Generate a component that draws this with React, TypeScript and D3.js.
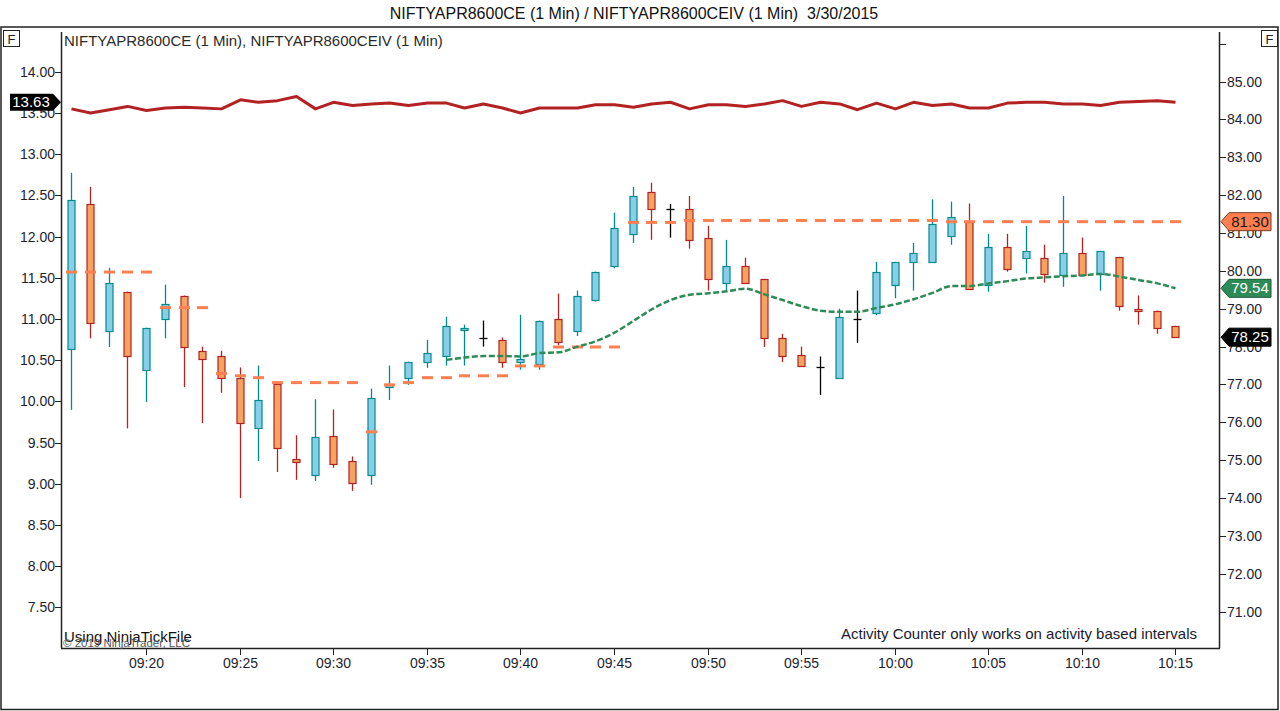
import React from "react";
import * as d3 from "d3";

// 1 minute bars, NIFTYAPR8600CE (right axis)
const times = [
  "09:16", "09:17", "09:18", "09:19", "09:20", "09:21", "09:22", "09:23", "09:24", "09:25",
  "09:26", "09:27", "09:28", "09:29", "09:30", "09:31", "09:32", "09:33", "09:34", "09:35",
  "09:36", "09:37", "09:38", "09:39", "09:40", "09:41", "09:42", "09:43", "09:44", "09:45",
  "09:46", "09:47", "09:48", "09:49", "09:50", "09:51", "09:52", "09:53", "09:54", "09:55",
  "09:56", "09:57", "09:58", "09:59", "10:00", "10:01", "10:02", "10:03", "10:04", "10:05",
  "10:06", "10:07", "10:08", "10:09", "10:10", "10:11", "10:12", "10:13", "10:14", "10:15",
];
const opens = [
  77.95, 81.78, 78.4, 79.45, 77.39, 78.74, 79.35, 77.89, 77.74, 77.16,
  75.84, 77.0, 75.04, 74.6, 75.65, 74.99, 74.6, 76.94, 77.16, 77.6,
  77.74, 78.45, 78.24, 78.18, 77.6, 77.55, 78.74, 78.4, 79.24, 80.14,
  80.98, 82.09, 81.64, 81.64, 80.88, 79.69, 80.14, 79.79, 78.24, 77.79,
  77.45, 77.18, 78.74, 78.9, 79.64, 80.24, 80.24, 80.93, 81.3, 79.64,
  80.64, 80.35, 80.35, 79.9, 80.48, 79.93, 80.37, 79.0, 78.95, 78.55,
];
const highs = [
  82.59, 82.22, 80.08, 79.45, 78.5, 79.64, 79.35, 78.0, 77.89, 77.45,
  77.5, 77.0, 75.66, 76.61, 76.34, 75.1, 76.89, 77.5, 77.6, 78.18,
  78.79, 78.58, 78.69, 78.24, 78.84, 78.69, 79.4, 79.48, 79.98, 81.54,
  82.22, 82.33, 81.77, 81.98, 81.19, 80.82, 80.35, 79.79, 78.34, 78.0,
  77.74, 79.0, 79.48, 80.24, 80.24, 80.74, 81.89, 81.83, 81.78, 80.98,
  80.98, 81.19, 80.69, 81.98, 80.88, 80.53, 80.37, 79.35, 78.95, 78.55,
];
const lows = [
  76.33, 78.22, 77.99, 75.84, 76.54, 78.22, 76.93, 75.98, 76.78, 74.0,
  74.98, 74.69, 74.48, 74.45, 74.8, 74.19, 74.35, 76.59, 76.99, 77.44,
  77.5, 77.5, 78.0, 77.44, 77.39, 77.39, 78.04, 78.28, 79.19, 80.07,
  80.74, 80.82, 80.88, 80.59, 79.48, 79.48, 79.69, 77.99, 77.59, 77.5,
  76.72, 77.18, 78.1, 78.83, 79.28, 79.48, 80.24, 80.69, 79.53, 79.45,
  79.98, 79.93, 79.69, 79.58, 79.9, 79.48, 78.95, 78.58, 78.34, 78.25,
];
const closes = [
  81.88, 78.63, 79.69, 77.74, 78.5, 79.13, 77.99, 77.66, 77.18, 75.99,
  76.6, 75.31, 74.94, 75.6, 74.91, 74.41, 76.65, 77.01, 77.6, 77.84,
  78.55, 78.5, 78.24, 77.6, 77.66, 78.69, 78.11, 79.35, 79.98, 81.14,
  81.98, 81.64, 81.64, 80.82, 79.79, 80.14, 79.69, 78.24, 77.74, 77.5,
  77.45, 78.79, 78.74, 79.98, 80.24, 80.48, 81.25, 81.43, 79.53, 80.64,
  80.04, 80.53, 79.93, 80.48, 79.9, 80.53, 79.08, 78.95, 78.5, 78.25,
];

// stepped level drawn as one dash per bar (right axis)
const levelDash = [
  79.97, 79.97, 79.97, 79.97, 79.97, 79.03, 79.03, 79.03, 77.29, 77.23,
  77.18, 77.05, 77.05, 77.05, 77.05, 77.05, 75.75, 76.99, 77.05, 77.18,
  77.18, 77.23, 77.23, 77.23, 77.49, 77.49, 77.99, 77.99, 77.99, 77.99,
  81.28, 81.28, 81.28, 81.33, 81.33, 81.33, 81.33, 81.33, 81.33, 81.33,
  81.33, 81.33, 81.33, 81.33, 81.33, 81.33, 81.33, 81.3, 81.3, 81.3,
  81.3, 81.3, 81.3, 81.3, 81.3, 81.3, 81.3, 81.3, 81.3, 81.3,
];

// green dashed average (right axis), starts at 09:36
const avgLine: (number | null)[] = [
  null, null, null, null, null, null, null, null, null, null,
  null, null, null, null, null, null, null, null, null, null,
  77.65, 77.71, 77.75, 77.75, 77.74, 77.83, 77.85, 78.0, 78.14, 78.37,
  78.68, 78.98, 79.23, 79.37, 79.41, 79.46, 79.53, 79.38, 79.23, 79.07,
  78.95, 78.92, 78.92, 79.02, 79.12, 79.25, 79.42, 79.6, 79.6, 79.67,
  79.73, 79.8, 79.83, 79.86, 79.88, 79.92, 79.85, 79.76, 79.67, 79.54,
];

// NIFTYAPR8600CEIV close (left axis)
const ivClose = [
  13.55, 13.5, 13.54, 13.58, 13.53, 13.56, 13.57, 13.56, 13.55, 13.66,
  13.63, 13.65, 13.7, 13.55, 13.63, 13.59, 13.61, 13.62, 13.59, 13.62,
  13.62, 13.56, 13.61, 13.56, 13.5, 13.56, 13.56, 13.56, 13.6, 13.6,
  13.57, 13.61, 13.63, 13.55, 13.6, 13.6, 13.58, 13.61, 13.65, 13.58,
  13.63, 13.61, 13.54, 13.62, 13.55, 13.63, 13.59, 13.61, 13.56, 13.56,
  13.62, 13.63, 13.63, 13.61, 13.61, 13.59, 13.63, 13.64, 13.65, 13.63,
];

const leftTicks = [7.5, 8, 8.5, 9, 9.5, 10, 10.5, 11, 11.5, 12, 12.5, 13, 13.5, 14];
const rightTicks = [71, 72, 73, 74, 75, 76, 77, 78, 79, 80, 81, 82, 83, 84, 85, 86];
const rightLabels = [71, 72, 73, 74, 75, 76, 77, 78, 79, 80, 81, 82, 83, 84, 85];
const xTicks = ["09:20", "09:25", "09:30", "09:35", "09:40", "09:45", "09:50", "09:55", "10:00", "10:05", "10:10", "10:15"];

const W = 1280;
const H = 711;
const pl = 61;
const pr = 1219;
const pt = 32;
const pb = 648;

const font = "'Liberation Sans', Arial, sans-serif";
const axisText = "#1e1e2e";

const UP_FILL = "#87CEEB";
const UP_LINE = "#008B8B";
const DN_FILL = "#F4A460";
const DN_LINE = "#B22222";

export default function App() {
  const parseHM = d3.timeParse("%H:%M");
  const parseHMS = d3.timeParse("%H:%M:%S");

  const x = d3
    .scaleTime()
    .domain([parseHMS("09:15:27") as Date, parseHMS("10:17:20") as Date])
    .range([pl, pr]);
  const yL = d3.scaleLinear().domain([7.007, 14.483]).range([pb, pt]);
  const yR = d3.scaleLinear().domain([70.04, 86.31]).range([pb, pt]);

  const cx = (i: number) => Math.round(x(parseHM(times[i]) as Date)) + 0.5;

  const ivPath = d3
    .line<number>()
    .x((_, i) => cx(i))
    .y((d) => yL(d))(ivClose);

  const avgPath = d3
    .line<number | null>()
    .defined((d) => d != null)
    .x((_, i) => cx(i))
    .y((d) => yR(d as number))
    .curve(d3.curveMonotoneX)(avgLine);

  const fmt = d3.format(".2f");

  const rightBadge = (v: number, fill: string, stroke: string, color: string) => {
    const yc = yR(v);
    const h = 9;
    return (
      <g key={"b" + v}>
        <path
          d={`M${pr + 2},${yc} L${pr + 10},${yc - h} L${pr + 52},${yc - h} L${pr + 52},${yc + h} L${pr + 10},${yc + h} Z`}
          fill={fill}
          stroke={stroke}
          strokeWidth={1}
        />
        <text x={pr + 31} y={yc + 5} textAnchor="middle" fontSize={15} fill={color} fontFamily={font}>
          {fmt(v)}
        </text>
      </g>
    );
  };

  const ivLast = ivClose[ivClose.length - 1];
  const ivY = yL(ivLast);

  return (
    <svg
      width={W}
      height={H}
      viewBox={`0 0 ${W} ${H}`}
      style={{ position: "absolute", left: 0, top: 0, background: "#fff" }}
    >
      <defs>
        <clipPath id="plotClip">
          <rect x={pl} y={pt - 4} width={pr - pl} height={pb - pt + 4} />
        </clipPath>
      </defs>
      <rect x={0} y={0} width={W} height={H} fill="#fff" />

      {/* title */}
      <text
        x={634}
        y={19}
        textAnchor="middle"
        fontSize={16}
        fill="#111"
        fontFamily={font}
        style={{ whiteSpace: "pre" }}
      >
        {"NIFTYAPR8600CE (1 Min) / NIFTYAPR8600CEIV (1 Min)  3/30/2015"}
      </text>

      {/* panel frame */}
      <rect x={1} y={27} width={1277} height={682.5} fill="none" stroke="#222" strokeWidth={1.5} />
      <rect x={3.5} y={30.5} width={16} height={16} fill="#fff" stroke="#222" strokeWidth={1} />
      <text x={11.5} y={44} textAnchor="middle" fontSize={13} fill="#222" fontFamily={font}>F</text>
      <rect x={1261.5} y={30.5} width={16} height={16} fill="#fff" stroke="#222" strokeWidth={1} />
      <text x={1269.5} y={44} textAnchor="middle" fontSize={13} fill="#222" fontFamily={font}>F</text>

      <text x={64} y={46} fontSize={15} fill="#2a2a2a" fontFamily={font}>
        NIFTYAPR8600CE (1 Min), NIFTYAPR8600CEIV (1 Min)
      </text>

      {/* axes lines */}
      <line x1={pl + 0.5} x2={pl + 0.5} y1={pt} y2={pb} stroke="#222" strokeWidth={1.5} />
      <line x1={pr + 0.5} x2={pr + 0.5} y1={pt} y2={pb} stroke="#222" strokeWidth={1.5} />
      <line x1={pl} x2={pr + 1} y1={pb + 0.5} y2={pb + 0.5} stroke="#222" strokeWidth={1.5} />

      {/* left axis */}
      {leftTicks.map((t) => (
        <g key={"l" + t}>
          <line x1={pl - 6} x2={pl} y1={Math.round(yL(t)) + 0.5} y2={Math.round(yL(t)) + 0.5} stroke="#222" />
          <text x={pl - 6} y={yL(t) + 5} textAnchor="end" fontSize={14} fill={axisText} fontFamily={font}>
            {fmt(t)}
          </text>
        </g>
      ))}

      {/* right axis */}
      {rightTicks.map((t) => (
        <line
          key={"rt" + t}
          x1={pr}
          x2={pr + 7}
          y1={Math.round(yR(t)) + 0.5}
          y2={Math.round(yR(t)) + 0.5}
          stroke="#222"
        />
      ))}
      {rightLabels.map((t) => (
        <text key={"r" + t} x={pr + 8} y={yR(t) + 5} fontSize={14} fill={axisText} fontFamily={font}>
          {fmt(t)}
        </text>
      ))}

      {/* time axis */}
      {xTicks.map((t) => {
        const px = Math.round(x(parseHM(t) as Date)) + 0.5;
        return (
          <g key={"x" + t}>
            <line x1={px} x2={px} y1={pb} y2={pb + 7} stroke="#222" />
            <text x={px} y={pb + 20} textAnchor="middle" fontSize={14} fill={axisText} fontFamily={font}>
              {t}
            </text>
          </g>
        );
      })}

      <g clipPath="url(#plotClip)">
        {/* candles */}
        {times.map((t, i) => {
          const o = opens[i];
          const c = closes[i];
          const px = cx(i);
          const up = c > o;
          const doji = c === o;
          const line = doji ? "#000" : up ? UP_LINE : DN_LINE;
          const fill = up ? UP_FILL : DN_FILL;
          const yTop = Math.round(yR(Math.max(o, c))) + 0.5;
          const yBot = Math.round(yR(Math.min(o, c))) + 0.5;
          return (
            <g key={"c" + t}>
              <line x1={px} x2={px} y1={yR(highs[i])} y2={yR(lows[i])} stroke={line} strokeWidth={1.3} />
              {doji ? (
                <line x1={px - 4} x2={px + 4} y1={yTop} y2={yTop} stroke="#000" strokeWidth={1.3} />
              ) : (
                <rect
                  x={px - 3.5}
                  y={yTop}
                  width={7}
                  height={Math.max(yBot - yTop, 2)}
                  fill={fill}
                  stroke={line}
                  strokeWidth={1.2}
                />
              )}
            </g>
          );
        })}

        {/* stepped level dashes */}
        {levelDash.map((v, i) => (
          <line
            key={"d" + i}
            x1={cx(i) - 5.5}
            x2={cx(i) + 5.5}
            y1={yR(v)}
            y2={yR(v)}
            stroke="#FF7F50"
            strokeWidth={3}
          />
        ))}

        {/* average */}
        <path
          d={avgPath || ""}
          fill="none"
          stroke="#2E8B57"
          strokeWidth={2.5}
          strokeDasharray="6,2.5"
        />

        {/* IV */}
        <path d={ivPath || ""} fill="none" stroke="#B22222" strokeWidth={3} strokeLinejoin="round" />
      </g>

      {/* value badges */}
      <path
        d={`M10,${ivY - 8.5} L53,${ivY - 8.5} L${pl},${ivY} L53,${ivY + 8.5} L10,${ivY + 8.5} Z`}
        fill="#000"
      />
      <text x={31} y={ivY + 5} textAnchor="middle" fontSize={15} fill="#fff" fontFamily={font}>
        {fmt(ivLast)}
      </text>
      {rightBadge(levelDash[levelDash.length - 1], "#FF7F50", "#7a3a20", "#1a1a1a")}
      {rightBadge(avgLine[avgLine.length - 1] as number, "#2E8B57", "#1d5a38", "#fff")}
      {rightBadge(closes[closes.length - 1], "#000", "#000", "#fff")}

      {/* footer text */}
      <text x={64} y={642} fontSize={15} fill="#111" fontFamily={font}>
        Using NinjaTickFile
      </text>
      <text x={63} y={647} fontSize={11.5} fill="#555" fontFamily={font}>
        © 2019 NinjaTrader, LLC
      </text>
      <text x={1197} y={639} textAnchor="end" fontSize={15} fill="#1a1a2e" fontFamily={font}>
        Activity Counter only works on activity based intervals
      </text>
    </svg>
  );
}
